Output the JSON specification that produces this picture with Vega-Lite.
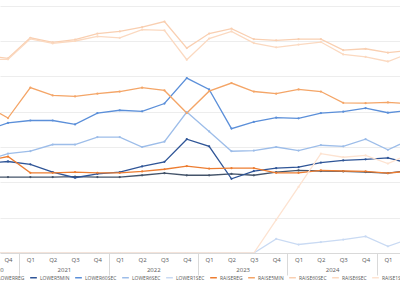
{
  "$schema": "https://vega.github.io/schema/vega-lite/v6.json",
  "autosize": "none",
  "padding": {"top": 0, "left": 0, "right": 0, "bottom": 30},
  "width": 400,
  "height": 253,
  "background": "white",
  "config": {"view": {"stroke": null}},
  "data": {"values": [
    {"q":-1,"s":"LOWERREG","v":2.15},{"q":0,"s":"LOWERREG","v":2.15},{"q":1,"s":"LOWERREG","v":2.15},{"q":2,"s":"LOWERREG","v":2.15},{"q":3,"s":"LOWERREG","v":2.16},{"q":4,"s":"LOWERREG","v":2.15},{"q":5,"s":"LOWERREG","v":2.15},{"q":6,"s":"LOWERREG","v":2.2},{"q":7,"s":"LOWERREG","v":2.26},{"q":8,"s":"LOWERREG","v":2.2},{"q":9,"s":"LOWERREG","v":2.2},{"q":10,"s":"LOWERREG","v":2.24},{"q":11,"s":"LOWERREG","v":2.2},{"q":12,"s":"LOWERREG","v":2.29},{"q":13,"s":"LOWERREG","v":2.34},{"q":14,"s":"LOWERREG","v":2.32},{"q":15,"s":"LOWERREG","v":2.31},{"q":16,"s":"LOWERREG","v":2.29},{"q":17,"s":"LOWERREG","v":2.26},{"q":18,"s":"LOWERREG","v":2.34},
    {"q":-1,"s":"LOWER5MIN","v":2.54},{"q":0,"s":"LOWER5MIN","v":2.59},{"q":1,"s":"LOWER5MIN","v":2.51},{"q":2,"s":"LOWER5MIN","v":2.29},{"q":3,"s":"LOWER5MIN","v":2.13},{"q":4,"s":"LOWER5MIN","v":2.24},{"q":5,"s":"LOWER5MIN","v":2.29},{"q":6,"s":"LOWER5MIN","v":2.45},{"q":7,"s":"LOWER5MIN","v":2.58},{"q":8,"s":"LOWER5MIN","v":3.22},{"q":9,"s":"LOWER5MIN","v":3.02},{"q":10,"s":"LOWER5MIN","v":2.1},{"q":11,"s":"LOWER5MIN","v":2.32},{"q":12,"s":"LOWER5MIN","v":2.4},{"q":13,"s":"LOWER5MIN","v":2.43},{"q":14,"s":"LOWER5MIN","v":2.56},{"q":15,"s":"LOWER5MIN","v":2.62},{"q":16,"s":"LOWER5MIN","v":2.65},{"q":17,"s":"LOWER5MIN","v":2.69},{"q":18,"s":"LOWER5MIN","v":2.53},
    {"q":-1,"s":"LOWER60SEC","v":3.47},{"q":0,"s":"LOWER60SEC","v":3.68},{"q":1,"s":"LOWER60SEC","v":3.75},{"q":2,"s":"LOWER60SEC","v":3.75},{"q":3,"s":"LOWER60SEC","v":3.64},{"q":4,"s":"LOWER60SEC","v":3.96},{"q":5,"s":"LOWER60SEC","v":4.04},{"q":6,"s":"LOWER60SEC","v":4.01},{"q":7,"s":"LOWER60SEC","v":4.23},{"q":8,"s":"LOWER60SEC","v":4.95},{"q":9,"s":"LOWER60SEC","v":4.63},{"q":10,"s":"LOWER60SEC","v":3.52},{"q":11,"s":"LOWER60SEC","v":3.71},{"q":12,"s":"LOWER60SEC","v":3.83},{"q":13,"s":"LOWER60SEC","v":3.81},{"q":14,"s":"LOWER60SEC","v":3.96},{"q":15,"s":"LOWER60SEC","v":4.0},{"q":16,"s":"LOWER60SEC","v":4.1},{"q":17,"s":"LOWER60SEC","v":3.97},{"q":18,"s":"LOWER60SEC","v":4.04},
    {"q":-1,"s":"LOWER6SEC","v":2.62},{"q":0,"s":"LOWER6SEC","v":2.81},{"q":1,"s":"LOWER6SEC","v":2.88},{"q":2,"s":"LOWER6SEC","v":3.07},{"q":3,"s":"LOWER6SEC","v":3.07},{"q":4,"s":"LOWER6SEC","v":3.28},{"q":5,"s":"LOWER6SEC","v":3.28},{"q":6,"s":"LOWER6SEC","v":3.0},{"q":7,"s":"LOWER6SEC","v":3.15},{"q":8,"s":"LOWER6SEC","v":3.99},{"q":9,"s":"LOWER6SEC","v":3.44},{"q":10,"s":"LOWER6SEC","v":2.88},{"q":11,"s":"LOWER6SEC","v":2.9},{"q":12,"s":"LOWER6SEC","v":3.0},{"q":13,"s":"LOWER6SEC","v":2.9},{"q":14,"s":"LOWER6SEC","v":3.05},{"q":15,"s":"LOWER6SEC","v":3.02},{"q":16,"s":"LOWER6SEC","v":3.22},{"q":17,"s":"LOWER6SEC","v":2.92},{"q":18,"s":"LOWER6SEC","v":3.21},
    {"q":-1,"s":"LOWER1SEC","v":0},{"q":0,"s":"LOWER1SEC","v":0},{"q":1,"s":"LOWER1SEC","v":0},{"q":2,"s":"LOWER1SEC","v":0},{"q":3,"s":"LOWER1SEC","v":0},{"q":4,"s":"LOWER1SEC","v":0},{"q":5,"s":"LOWER1SEC","v":0},{"q":6,"s":"LOWER1SEC","v":0},{"q":7,"s":"LOWER1SEC","v":0},{"q":8,"s":"LOWER1SEC","v":0},{"q":9,"s":"LOWER1SEC","v":0},{"q":10,"s":"LOWER1SEC","v":0},{"q":11,"s":"LOWER1SEC","v":0},{"q":12,"s":"LOWER1SEC","v":0.4},{"q":13,"s":"LOWER1SEC","v":0.24},{"q":14,"s":"LOWER1SEC","v":0.31},{"q":15,"s":"LOWER1SEC","v":0.38},{"q":16,"s":"LOWER1SEC","v":0.47},{"q":17,"s":"LOWER1SEC","v":0.19},{"q":18,"s":"LOWER1SEC","v":0.41},
    {"q":-1,"s":"RAISEREG","v":2.6},{"q":0,"s":"RAISEREG","v":2.73},{"q":1,"s":"RAISEREG","v":2.27},{"q":2,"s":"RAISEREG","v":2.27},{"q":3,"s":"RAISEREG","v":2.29},{"q":4,"s":"RAISEREG","v":2.27},{"q":5,"s":"RAISEREG","v":2.27},{"q":6,"s":"RAISEREG","v":2.31},{"q":7,"s":"RAISEREG","v":2.37},{"q":8,"s":"RAISEREG","v":2.46},{"q":9,"s":"RAISEREG","v":2.39},{"q":10,"s":"RAISEREG","v":2.4},{"q":11,"s":"RAISEREG","v":2.4},{"q":12,"s":"RAISEREG","v":2.27},{"q":13,"s":"RAISEREG","v":2.27},{"q":14,"s":"RAISEREG","v":2.34},{"q":15,"s":"RAISEREG","v":2.32},{"q":16,"s":"RAISEREG","v":2.31},{"q":17,"s":"RAISEREG","v":2.26},{"q":18,"s":"RAISEREG","v":2.32},
    {"q":-1,"s":"RAISE5MIN","v":4.17},{"q":0,"s":"RAISE5MIN","v":3.82},{"q":1,"s":"RAISE5MIN","v":4.68},{"q":2,"s":"RAISE5MIN","v":4.46},{"q":3,"s":"RAISE5MIN","v":4.43},{"q":4,"s":"RAISE5MIN","v":4.51},{"q":5,"s":"RAISE5MIN","v":4.57},{"q":6,"s":"RAISE5MIN","v":4.68},{"q":7,"s":"RAISE5MIN","v":4.6},{"q":8,"s":"RAISE5MIN","v":3.96},{"q":9,"s":"RAISE5MIN","v":4.58},{"q":10,"s":"RAISE5MIN","v":4.81},{"q":11,"s":"RAISE5MIN","v":4.57},{"q":12,"s":"RAISE5MIN","v":4.51},{"q":13,"s":"RAISE5MIN","v":4.63},{"q":14,"s":"RAISE5MIN","v":4.57},{"q":15,"s":"RAISE5MIN","v":4.25},{"q":16,"s":"RAISE5MIN","v":4.24},{"q":17,"s":"RAISE5MIN","v":4.26},{"q":18,"s":"RAISE5MIN","v":4.23},
    {"q":-1,"s":"RAISE60SEC","v":5.59},{"q":0,"s":"RAISE60SEC","v":5.51},{"q":1,"s":"RAISE60SEC","v":6.09},{"q":2,"s":"RAISE60SEC","v":5.96},{"q":3,"s":"RAISE60SEC","v":6.04},{"q":4,"s":"RAISE60SEC","v":6.21},{"q":5,"s":"RAISE60SEC","v":6.27},{"q":6,"s":"RAISE60SEC","v":6.39},{"q":7,"s":"RAISE60SEC","v":6.55},{"q":8,"s":"RAISE60SEC","v":5.8},{"q":9,"s":"RAISE60SEC","v":6.21},{"q":10,"s":"RAISE60SEC","v":6.35},{"q":11,"s":"RAISE60SEC","v":6.05},{"q":12,"s":"RAISE60SEC","v":6.02},{"q":13,"s":"RAISE60SEC","v":6.05},{"q":14,"s":"RAISE60SEC","v":6.05},{"q":15,"s":"RAISE60SEC","v":5.74},{"q":16,"s":"RAISE60SEC","v":5.78},{"q":17,"s":"RAISE60SEC","v":5.67},{"q":18,"s":"RAISE60SEC","v":5.74},
    {"q":-1,"s":"RAISE6SEC","v":5.48},{"q":0,"s":"RAISE6SEC","v":5.48},{"q":1,"s":"RAISE6SEC","v":6.06},{"q":2,"s":"RAISE6SEC","v":5.93},{"q":3,"s":"RAISE6SEC","v":6.0},{"q":4,"s":"RAISE6SEC","v":6.13},{"q":5,"s":"RAISE6SEC","v":6.09},{"q":6,"s":"RAISE6SEC","v":6.32},{"q":7,"s":"RAISE6SEC","v":6.3},{"q":8,"s":"RAISE6SEC","v":5.47},{"q":9,"s":"RAISE6SEC","v":6.07},{"q":10,"s":"RAISE6SEC","v":6.27},{"q":11,"s":"RAISE6SEC","v":5.94},{"q":12,"s":"RAISE6SEC","v":5.82},{"q":13,"s":"RAISE6SEC","v":5.9},{"q":14,"s":"RAISE6SEC","v":5.97},{"q":15,"s":"RAISE6SEC","v":5.62},{"q":16,"s":"RAISE6SEC","v":5.55},{"q":17,"s":"RAISE6SEC","v":5.42},{"q":18,"s":"RAISE6SEC","v":5.66},
    {"q":-1,"s":"RAISE1SEC","v":0},{"q":0,"s":"RAISE1SEC","v":0},{"q":1,"s":"RAISE1SEC","v":0},{"q":2,"s":"RAISE1SEC","v":0},{"q":3,"s":"RAISE1SEC","v":0},{"q":4,"s":"RAISE1SEC","v":0},{"q":5,"s":"RAISE1SEC","v":0},{"q":6,"s":"RAISE1SEC","v":0},{"q":7,"s":"RAISE1SEC","v":0},{"q":8,"s":"RAISE1SEC","v":0},{"q":9,"s":"RAISE1SEC","v":0},{"q":10,"s":"RAISE1SEC","v":0},{"q":11,"s":"RAISE1SEC","v":0},{"q":12,"s":"RAISE1SEC","v":0.94},{"q":13,"s":"RAISE1SEC","v":1.87},{"q":14,"s":"RAISE1SEC","v":2.81},{"q":15,"s":"RAISE1SEC","v":2.71},{"q":16,"s":"RAISE1SEC","v":2.76},{"q":17,"s":"RAISE1SEC","v":2.53},{"q":18,"s":"RAISE1SEC","v":2.81}
  ]},
  "encoding": {
    "x": {
      "field": "q", "type": "quantitative",
      "scale": {"domain": [-0.358, 17.54], "nice": false, "zero": false},
      "axis": {
        "title": null, "grid": false,
        "values": [-0.22, 0, 1, 2, 3, 4, 5, 6, 7, 8, 9, 10, 11, 12, 13, 14, 15, 16, 17, 0.5, 4.5, 8.5, 12.5, 16.5, 2.5, 6.5, 10.5, 14.5],
        "labelExpr": "datum.value % 1 == 0 ? 'Q' + (((datum.value + 3) % 4) + 1) : (datum.value == 2.5 ? '2021' : datum.value == 6.5 ? '2022' : datum.value == 10.5 ? '2023' : datum.value == 14.5 ? '2024' : datum.value < 0 ? '2020' : '')",
        "labelFont": "Open Sans", "labelFontSize": 6, "labelColor": "#595959",
        "labelFlush": false, "labelOverlap": false, "labelBound": false,
        "labelPadding": {"condition": {"test": "datum.value % 1 == 0", "value": 3}, "value": 13},
        "labelAlign": {"condition": {"test": "datum.value < 0", "value": "right"}, "value": "center"},
        "domainColor": "#d9d9d9", "domainWidth": 1,
        "tickColor": "#d9d9d9",
        "tickSize": {"condition": {"test": "(datum.value - 0.5) % 4 == 0", "value": 22}, "value": 0}
      }
    },
    "y": {
      "field": "v", "type": "quantitative",
      "scale": {"domain": [0, 7.16], "nice": false},
      "axis": {"title": null, "labels": false, "ticks": false, "domain": false, "values": [1, 2, 3, 4, 5, 6, 7], "gridColor": "#ededed"}
    },
    "color": {
      "field": "s", "type": "nominal",
      "scale": {
        "domain": ["LOWERREG", "LOWER5MIN", "LOWER60SEC", "LOWER6SEC", "LOWER1SEC", "RAISEREG", "RAISE5MIN", "RAISE60SEC", "RAISE6SEC", "RAISE1SEC"],
        "range": ["#44546a", "#2f5597", "#5b8fd9", "#9dbde9", "#c9daf3", "#ed7d31", "#f4a567", "#f9cfb1", "#fbd9c0", "#fde3d1"]
      },
      "legend": {
        "title": null, "orient": "none", "legendX": -13, "legendY": 273, "direction": "horizontal", "columns": 10,
        "symbolType": "stroke", "symbolSize": 45, "symbolStrokeWidth": 1.5,
        "labelFont": "Open Sans", "labelFontSize": 5, "labelColor": "#595959",
        "columnPadding": 2, "padding": 0, "labelOffset": 2
      }
    }
  },
  "layer": [
    {"mark": {"type": "line", "strokeWidth": 1.3, "clip": true}},
    {"mark": {"type": "point", "filled": true, "size": 5, "opacity": 1, "clip": true}}
  ]
}
